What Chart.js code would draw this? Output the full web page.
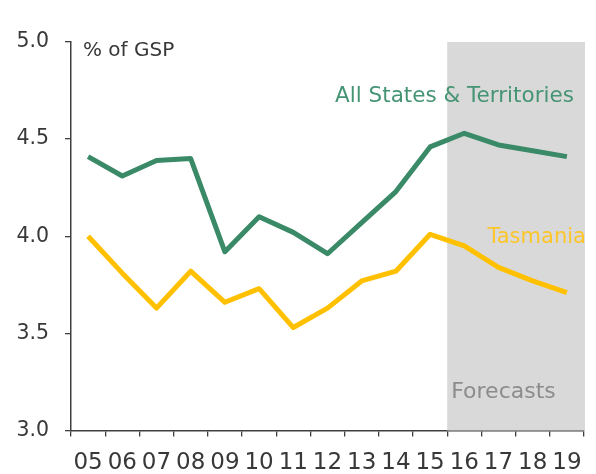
<!DOCTYPE html>
<html>
<head>
<meta charset="utf-8">
<script src="https://cdn.jsdelivr.net/npm/chart.js@4/dist/chart.umd.min.js"></script>
<style>
  html, body { margin: 0; padding: 0; background: #ffffff; }
  #wrap { width: 596px; height: 474px; position: relative; }
</style>
</head>
<body>
<div id="wrap"><canvas id="chart" width="596" height="474"></canvas></div>
<script>
// Financial years (two-digit), with forecast years from 16 onwards
const years = ['05','06','07','08','09','10','11','12','13','14','15','16','17','18','19'];
const forecastStart = '16';

// Share of gross state product (%)
const allStates = [4.41, 4.31, 4.39, 4.40, 3.92, 4.10, 4.02, 3.91, 4.07, 4.23, 4.46, 4.53, 4.47, 4.44, 4.41];
const tasmania  = [4.00, 3.81, 3.63, 3.82, 3.66, 3.73, 3.53, 3.63, 3.77, 3.82, 4.01, 3.95, 3.84, 3.77, 3.71];

const yTicks = [3.0, 3.5, 4.0, 4.5, 5.0];

const FONT = "'DejaVu Sans', sans-serif";
const GREEN = '#3a8a68';
const YELLOW = '#ffc000';
const AXIS = '#404040';
const TEXT = '#383838';

// Grey band behind the forecast years plus the in-chart annotations
const annotations = {
  id: 'annotations',
  beforeDatasetsDraw(chart) {
    const { ctx, scales: { x, y } } = chart;
    const i = years.indexOf(forecastStart);
    const half = (x.getPixelForValue(1) - x.getPixelForValue(0)) / 2;
    const left = x.getPixelForValue(i) - half;
    const right = x.getPixelForValue(years.length - 1) + half + 1;
    const top = y.getPixelForValue(5.0);
    const bottom = y.getPixelForValue(3.0);
    ctx.save();
    ctx.fillStyle = '#d9d9d9';
    ctx.fillRect(left, top, right - left, bottom - top);
    ctx.restore();
  },
  afterDatasetsDraw(chart) {
    const { ctx, scales: { x, y }, chartArea } = chart;
    const i = years.indexOf(forecastStart);
    const half = (x.getPixelForValue(1) - x.getPixelForValue(0)) / 2;
    const last = x.getPixelForValue(years.length - 1);
    ctx.save();
    ctx.textBaseline = 'alphabetic';

    ctx.font = '20px ' + FONT;
    ctx.fillStyle = TEXT;
    ctx.textAlign = 'left';
    ctx.fillText('% of GSP', chartArea.left + 12, y.getPixelForValue(4.93));

    ctx.font = '21.5px ' + FONT;
    ctx.fillStyle = '#459474';
    ctx.textAlign = 'right';
    ctx.fillText('All States & Territories', last + 7, y.getPixelForValue(4.69));

    ctx.font = '21px ' + FONT;
    ctx.fillStyle = '#fcc52a';
    ctx.fillText('Tasmania', last + 19, y.getPixelForValue(3.966));

    ctx.font = '22px ' + FONT;
    ctx.fillStyle = '#8c8c8c';
    ctx.textAlign = 'left';
    ctx.fillText('Forecasts', x.getPixelForValue(i) - half + 4, y.getPixelForValue(3.167));
    ctx.restore();
  }
};

new Chart(document.getElementById('chart'), {
  type: 'line',
  data: {
    labels: years,
    datasets: [
      {
        label: 'All States & Territories',
        data: allStates,
        borderColor: GREEN,
        borderWidth: 5,
        pointRadius: 0,
        tension: 0,
        borderJoinStyle: 'round'
      },
      {
        label: 'Tasmania',
        data: tasmania,
        borderColor: YELLOW,
        borderWidth: 5,
        pointRadius: 0,
        tension: 0,
        borderJoinStyle: 'round'
      }
    ]
  },
  options: {
    responsive: false,
    animation: false,
    layout: { padding: { top: 42, right: 12, left: 0, bottom: 0 } },
    plugins: {
      legend: { display: false },
      tooltip: { enabled: false }
    },
    scales: {
      x: {
        type: 'category',
        offset: true,
        grid: {
          offset: true,
          drawOnChartArea: false,
          drawTicks: true,
          tickLength: 6,
          color: AXIS,
          lineWidth: 1.3
        },
        border: { display: true, color: AXIS, width: 1.5 },
        ticks: {
          autoSkip: false,
          maxRotation: 0,
          padding: 13,
          color: TEXT,
          font: { family: FONT, size: 23 }
        },
        afterFit(scale) { scale.height = 43.5; }
      },
      y: {
        min: 3,
        max: 5,
        afterBuildTicks(scale) { scale.ticks = yTicks.map(v => ({ value: v })); },
        grid: {
          drawOnChartArea: false,
          drawTicks: true,
          tickLength: 6,
          color: AXIS,
          lineWidth: 1.3
        },
        border: { display: true, color: AXIS, width: 1.5 },
        ticks: {
          padding: 16,
          color: TEXT,
          font: { family: FONT, size: 20.5 },
          callback: v => Number(v).toFixed(1)
        },
        afterFit(scale) { scale.width = 71; }
      }
    }
  },
  plugins: [annotations]
});
</script>
</body>
</html>
